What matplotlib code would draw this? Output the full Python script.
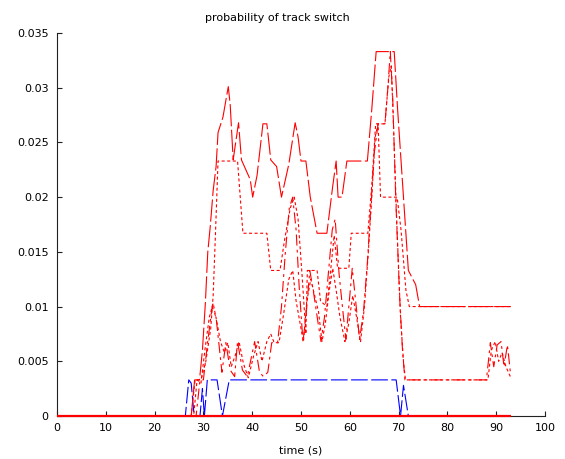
import matplotlib
matplotlib.use("Agg")
import matplotlib.pyplot as plt

plt.rcParams['font.family'] = ['DejaVu Sans']
plt.rcParams['lines.scale_dashes'] = False

# ---------------- data ----------------
x_ticks = [0, 10, 20, 30, 40, 50, 60, 70, 80, 90, 100]
y_ticks = [0, 0.005, 0.01, 0.015, 0.02, 0.025, 0.03, 0.035]
y_tick_labels = ['0', '0.005', '0.01', '0.015', '0.02', '0.025', '0.03', '0.035']

# red solid (stays at zero)
t0 = [0, 93]
p0 = [0, 0]

# blue dashed
tb = [0, 26.3, 27.0, 27.5, 28.1, 29.3, 29.8, 30.2, 30.8, 32.8, 33.9, 35.3, 69.5, 70.4, 71.0, 72.0, 93]
pb = [0, 0, 0.0033, 0.0030, 0, 0, 0.0025, 0, 0.0033, 0.0033, 0, 0.0033, 0.0033, 0, 0.0028, 0, 0]

# red long dash
t1 = [0, 27.5, 28.2, 29.2, 29.8, 30.4, 30.9, 31.4, 32.0, 32.6, 33.0, 34.0, 35.1, 35.5, 36.1,
      37.2, 37.8, 39.6, 40.1, 41.0, 42.2, 43.0, 43.3, 43.8, 45.0, 46.0, 47.5, 48.8, 49.4, 50.0,
      51.0, 51.9, 53.3, 55.3, 56.5, 57.2, 57.6, 58.4, 59.4, 63.6, 64.5, 65.4, 69.1, 69.8, 71.0,
      72.0, 73.5, 74.3, 93.0]
p1 = [0, 0, 0.0033, 0.0033, 0.006, 0.0103, 0.015, 0.0173, 0.0206, 0.0228, 0.0259, 0.0273, 0.0301,
      0.0284, 0.0234, 0.0268, 0.0234, 0.0216, 0.020, 0.022, 0.0267, 0.0267, 0.0255, 0.0234, 0.0228,
      0.020, 0.023, 0.0268, 0.0255, 0.0233, 0.0233, 0.020, 0.0167, 0.0167, 0.021, 0.0233, 0.020,
      0.020, 0.0233, 0.0233, 0.028, 0.0333, 0.0333, 0.028, 0.020, 0.0133, 0.012, 0.010, 0.010]

# red dotted (upper)
t2 = [0, 27.5, 28.3, 29.5, 30.5, 31.5, 32.0, 32.5, 33.0, 37.0, 38.1, 43.0, 43.8, 45.7, 46.6, 47.8,
      48.6, 49.4, 50.2, 51.0, 51.3, 53.3, 54.0, 55.3, 56.0, 56.8, 57.5, 59.8, 60.3, 63.7, 64.5,
      65.3, 65.8, 66.3, 69.7, 70.5, 71.5, 72.2, 93.0]
p2 = [0, 0, 0.0033, 0.0033, 0.005, 0.008, 0.011, 0.017, 0.0233, 0.0233, 0.0167, 0.0167, 0.0133,
      0.0133, 0.016, 0.019, 0.020, 0.018, 0.013, 0.0075, 0.0133, 0.0133, 0.0105, 0.010, 0.013,
      0.0165, 0.0135, 0.0135, 0.0167, 0.0167, 0.021, 0.0267, 0.0267, 0.020, 0.020, 0.017, 0.0115,
      0.010, 0.010]

# red dash-dot
t3 = [0, 28.5, 29.3, 30.0, 30.8, 31.8, 32.6, 33.2, 33.8, 34.6, 35.5, 36.4, 37.0, 38.0, 39.0,
      40.5, 41.5, 42.3, 43.2, 44.0, 45.2, 46.0, 46.8, 47.6, 48.3, 49.0, 49.6, 50.4, 51.0, 51.8,
      52.5, 53.5, 54.1, 54.8, 55.6, 56.4, 57.0, 57.8, 58.6, 59.2, 59.8, 60.5, 61.2, 62.0, 62.8,
      63.6, 64.3, 65.0, 65.8, 67.2, 67.8, 68.3, 68.8, 69.4, 70.2, 70.8, 71.3, 88.0, 88.8, 89.5,
      90.2, 91.0, 91.6, 92.3, 92.9]
p3 = [0, 0, 0.0033, 0.0033, 0.0065, 0.010, 0.009, 0.0065, 0.004, 0.0067, 0.0042, 0.0036, 0.0068,
      0.0042, 0.0036, 0.0068, 0.004, 0.0036, 0.004, 0.0067, 0.0067, 0.010, 0.015, 0.019, 0.020,
      0.017, 0.012, 0.0068, 0.009, 0.0133, 0.0115, 0.0085, 0.0068, 0.009, 0.013, 0.017, 0.018,
      0.013, 0.0095, 0.007, 0.010, 0.0135, 0.0105, 0.007, 0.0095, 0.014, 0.019, 0.024, 0.0267,
      0.0267, 0.030, 0.0333, 0.029, 0.020, 0.011, 0.006, 0.0033, 0.0033, 0.0067, 0.0045, 0.0065,
      0.0068, 0.0045, 0.0065, 0.004]

# red dotted (lower)
t4 = [0, 28.0, 28.7, 29.5, 30.3, 31.2, 32.0, 32.8, 33.5, 34.3, 35.0, 35.7, 36.5, 37.3, 38.2,
      39.2, 40.3, 41.2, 42.0, 43.0, 43.8, 44.5, 45.5, 46.5, 47.5, 48.3, 49.0, 50.0, 50.5, 51.2,
      52.0, 52.8, 53.6, 54.3, 55.0, 55.8, 56.5, 57.2, 58.0, 59.0, 59.8, 60.6, 61.4, 62.2, 63.0,
      63.8, 64.5, 65.2, 65.8, 67.2, 68.0, 68.5, 69.0, 69.6, 70.4, 71.0, 71.4, 88.3, 89.0, 89.8,
      90.5, 91.2, 92.0, 93.0]
p4 = [0, 0, 0.0033, 0.003, 0.006, 0.009, 0.0103, 0.0085, 0.0068, 0.0058, 0.0067, 0.0045, 0.0055,
      0.0068, 0.0048, 0.0035, 0.0055, 0.0068, 0.005, 0.0068, 0.0075, 0.0067, 0.0067, 0.0095,
      0.0125, 0.0133, 0.0105, 0.008, 0.0068, 0.0105, 0.0125, 0.011, 0.0095, 0.0068, 0.0085, 0.0115,
      0.0135, 0.0115, 0.009, 0.0068, 0.0085, 0.011, 0.009, 0.0068, 0.010, 0.015, 0.020, 0.0255,
      0.0267, 0.0267, 0.031, 0.032, 0.026, 0.018, 0.009, 0.005, 0.0033, 0.0033, 0.006, 0.0068,
      0.005, 0.0058, 0.0045, 0.0035]

# ---------------- plot ----------------
W, H = 565, 459
fig = plt.figure(figsize=(W / 100, H / 100), dpi=100)
ax = fig.add_axes([57 / W, 1 - 416 / H, (545 - 57) / W, (416 - 33) / H])

red = '#ff0000'
blue = '#0000ff'
lw = 0.8

ax.plot(tb, pb, color=blue, lw=lw, dashes=(12, 2.5), clip_on=False, zorder=3)
ax.plot(t1, p1, color=red, lw=lw, dashes=(16, 2.5), clip_on=False, zorder=4)
ax.plot(t2, p2, color=red, lw=lw, dashes=(2.2, 1.8), clip_on=False, zorder=4)
ax.plot(t3, p3, color=red, lw=lw, dashes=(8, 3, 2, 3), clip_on=False, zorder=4)
ax.plot(t4, p4, color=red, lw=lw, dashes=(2.2, 1.8), clip_on=False, zorder=4)
ax.plot(t0, p0, color=red, lw=1.6, solid_capstyle='butt', clip_on=False, zorder=5)

ax.set_xlim(0, 100)
ax.set_ylim(0, 0.035)
ax.set_xticks(x_ticks)
ax.set_xticklabels([str(v) for v in x_ticks])
ax.set_yticks(y_ticks)
ax.set_yticklabels(y_tick_labels)

for side in ('top', 'right'):
    ax.spines[side].set_visible(False)
for side in ('left', 'bottom'):
    ax.spines[side].set_color('#222222')
    ax.spines[side].set_linewidth(0.8)

ax.tick_params(direction='in', length=3.5, width=0.8, color='#222222',
               labelsize=8, labelcolor='black', pad=5)
ax.tick_params(axis='y', pad=6)

ax.set_xlabel('time (s)', fontsize=8, labelpad=9)
ax.text(0.452, 1.0 + 12 / 383, 'probability of track switch', transform=ax.transAxes,
        ha='center', va='baseline', fontsize=8)

fig.savefig('out.png', dpi=100)
